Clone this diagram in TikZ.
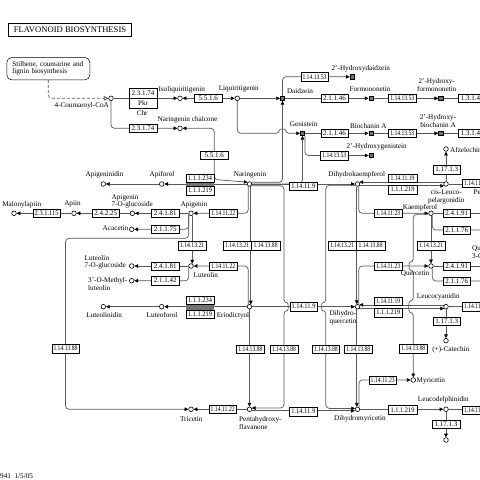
\documentclass[tikz,border=0pt]{standalone}
\usepackage{fontspec}
\setmainfont{Liberation Serif}
\usepackage{graphicx}
\usetikzlibrary{arrows.meta}
\pgfdeclarelayer{back}
\pgfdeclarelayer{bg}
\pgfsetlayers{back,bg,main}
\newsavebox\ecb
\newcommand\ectxt[1]{\sbox\ecb{#1}\ifdim\wd\ecb>24pt\relax\resizebox{24pt}{\ht\ecb}{\usebox\ecb}\else\usebox\ecb\fi}
\newcommand\Cpd[2]{\node[cpd] (#1) at (#2) {};}
\newcommand\Iso[2]{\node[isof] (#1) at (#2) {};}
\newcommand\Ec[4][]{\node[ecbox,#1] (#2) at (#3) {\ectxt{#4}};}
\newcommand\Lb[3]{\node[lbl] (#1) at (#2) {#3};}
\newcommand\LbW[3]{\node[lbl,anchor=west,align=left] (#1) at (#2) {#3};}
\newcommand\LbE[3]{\node[lbl,anchor=east] (#1) at (#2) {#3};}
\tikzset{
 ecbox/.style={draw=black, fill=white, line width=0.5pt, minimum width=27.5pt, minimum height=8.5pt, inner sep=0pt, font=\fontsize{7}{7}\selectfont},
 ecw/.style={minimum width=28.5pt},
 cpd/.style={circle, draw=black, fill=white, line width=0.6pt, minimum size=4.6pt, inner sep=0pt},
 isof/.style={rectangle, draw=black, fill=black!55, line width=0.5pt, minimum size=4.4pt, inner sep=0pt},
 lbl/.style={inner sep=0pt, font=\fontsize{7.2}{7.6}\selectfont, align=center},
 lnk/.style={draw=black!65, line width=0.7pt, rounded corners=3.5pt},
 arr/.style={lnk, -{Triangle[length=3.8pt,width=3.6pt,color=black]}},
 barr/.style={lnk, {Triangle[length=3.8pt,width=3.6pt,color=black]}-{Triangle[length=3.8pt,width=3.6pt,color=black]}},
}
\begin{document}
\begin{tikzpicture}[x=1pt,y=-1pt]
\useasboundingbox (0,0) rectangle (480,480);
\begin{pgfonlayer}{back}
\fill[white] (0,0) rectangle (480,480);
\end{pgfonlayer}
\clip (0,0) rectangle (480,480);
% title and map link
\node[draw=black, line width=1.2pt, minimum width=123pt, minimum height=13.5pt, inner sep=0pt, font=\fontsize{8.6}{9}\selectfont] (title) at (70,30) {FLAVONOID BIOSYNTHESIS};
\node[draw=black, line width=0.5pt, rounded corners=5pt, minimum width=83pt, minimum height=22.5pt, inner sep=0pt, text width=72pt, align=left, font=\fontsize{7.2}{7}\selectfont] (stil) at (48.3,68.7) {Stilbene, coumarine and\\lignin biosynthesis};
% compounds
\Cpd{cou}{111,98.3}
\Cpd{isoliq}{180,98.3}
\Cpd{liq}{237.3,98.3}
\Cpd{chal}{180,128.3}
\Cpd{nar}{249.5,184}
\Cpd{apif}{161.7,184}
\Cpd{apid}{103.3,184}
\Cpd{api}{191,213.3}
\Cpd{a7g}{132.3,213.3}
\Cpd{apiin}{74,213.3}
\Cpd{malap}{14,213.3}
\Cpd{acac}{131.7,229.3}
\Cpd{lut}{191,266}
\Cpd{l7g}{131.7,266}
\Cpd{mlut}{131.7,280.7}
\Cpd{eri}{249.5,306.7}
\Cpd{lutf}{161.7,306.7}
\Cpd{lutd}{103.3,306.7}
\Cpd{tri}{191,409.3}
\Cpd{pen}{249.5,409.3}
\Cpd{dhk}{357.5,184}
\Cpd{dhq}{357.5,306.7}
\Cpd{dhm}{357.5,409.3}
\Cpd{kae}{431,213.3}
\Cpd{que}{431,266}
\Cpd{myr}{413.3,380}
\Cpd{clp}{446,184}
\Cpd{afz}{446,149}
\Cpd{leu}{446,306.7}
\Cpd{cat}{446,340.7}
\Cpd{ldp}{446,409.3}
\Cpd{gcat}{446,440}
\Iso{dai}{282.5,98.3}
\Iso{gen}{302.5,133.3}
\Iso{hdai}{352.3,76.8}
\Iso{form}{371,98.3}
\Iso{hform}{440.7,98.3}
\Iso{bioa}{371,133.3}
\Iso{hbioa}{440.7,133.3}
\Iso{hgen}{371,155.5}
% enzymes
\Ec[minimum height=10pt, minimum width=28pt]{pkr}{143,93}{2.3.1.74}
\node[ecbox, minimum height=10pt, minimum width=28pt] (pkrb) at (143,103) {Pkr};
\Ec{chs2}{143,128.3}{2.3.1.74}
\Ec{chi1}{208.3,98.3}{5.5.1.6}
\Ec{chi2}{214.2,155}{5.5.1.6}
\Ec{hd53}{314.5,76.8}{1.14.13.53}
\Ec{fm46}{334.5,98.3}{2.1.1.46}
\Ec{hf53}{402.3,98.3}{1.14.13.53}
\Ec{rf1}{472.3,98.3}{1.3.1.45}
\Ec{ba46}{334.5,133.3}{2.1.1.46}
\Ec{hb53}{402.3,133.3}{1.14.13.53}
\Ec{rf2}{472.3,133.3}{1.3.1.45}
\Ec{hg53}{334.3,155.5}{1.14.13.53}
\Ec{f3ha}{303.3,186.2}{1.14.11.9}
\Ec{dfra}{200,178}{1.1.1.234}
\Ec{dfrb}{200,190.5}{1.1.1.219}
\Ec{fnsa}{223.3,213.3}{1.14.11.22}
\Ec{gta}{165.2,213.3}{2.4.1.81}
\Ec{mta}{165.2,229.3}{2.1.1.75}
\Ec{ap25}{105.8,213.3}{2.4.2.25}
\Ec{ap115}{46.7,213.3}{2.3.1.115}
\Ec{f3pa}{192.15,245.5}{1.14.13.21}
\Ec[ecw]{nfa}{237.1,245.5}{1.14.13.21}
\Ec[ecw]{nfb}{265.6,245.5}{1.14.13.88}
\Ec[ecw]{dka}{342.1,245.5}{1.14.13.21}
\Ec[ecw]{dkb}{370.6,245.5}{1.14.13.88}
\Ec{fnsb}{223.3,266}{1.14.11.22}
\Ec{gtb}{165.2,266}{2.4.1.81}
\Ec{mtb}{165.2,280.7}{2.1.1.42}
\Ec{dfrc}{200,300}{1.1.1.234}
\Ec{dfrd}{200,314}{1.1.1.219}
\Ec{f3hb}{303.5,306.7}{1.14.11.9}
\Ec{fta}{65.5,348.7}{1.14.13.88}
\Ec{ftb}{250.45,349}{1.14.13.88}
\Ec{ftc}{284,349}{1.14.13.88}
\Ec{ftd}{325.8,349.2}{1.14.13.88}
\Ec{fte}{358.3,349.2}{1.14.13.88}
\Ec{ftf}{413.3,348.7}{1.14.13.88}
\Ec{fnsc}{222.7,409.3}{1.14.11.22}
\Ec{f3hc}{303.3,411.5}{1.14.11.9}
\Ec[ecw]{ansa}{402.5,178}{1.14.11.19}
\Ec[ecw]{dfre}{402.5,189.5}{1.1.1.219}
\Ec{lara}{446.7,169.5}{1.17.1.3}
\Ec{ransa}{476,183}{1.14.11.19}
\Ec{flsa}{388.3,213.3}{1.14.11.23}
\Ec{gtc}{456.7,213.3}{2.4.1.91}
\Ec{mtc}{456.7,230}{2.1.1.76}
\Ec{f3pb}{431,245.5}{1.14.13.21}
\Ec{flsb}{388.3,266}{1.14.11.23}
\Ec{gtd}{456.7,266}{2.4.1.91}
\Ec{mtd}{456.7,281}{2.1.1.76}
\Ec{ansb}{388.3,301}{1.14.11.19}
\Ec{dfrf}{388.3,312.5}{1.1.1.219}
\Ec{ransb}{476,306.5}{1.14.11.19}
\Ec{larb}{446.7,321}{1.17.1.3}
\Ec{flsc}{382.7,380}{1.14.11.23}
\Ec[ecw]{dfrg}{402.5,409.8}{1.1.1.219}
\Ec{ransc}{476,410}{1.14.11.19}
\Ec{larc}{446,424.2}{1.17.1.3}
\fill[black!55] (dfra.south west) rectangle (dfrb.north east);
\fill[black!55] (dfrc.south west) rectangle (dfrd.north east);
% labels
\Lb{t-cou}{81.7,106}{4-Coumaroyl-CoA}
\Lb{t-chr}{142.2,112.7}{Chr}
\Lb{t-isoliq}{181.7,89.3}{Isoliquiritigenin}
\Lb{t-liq}{238.8,89.3}{Liquiritigenin}
\Lb{t-chal}{187.5,119.3}{Naringenin chalcone}
\Lb{t-dai}{300,91}{Daidzein}
\Lb{t-hdai}{360.8,68.3}{2'-Hydroxydaidzein}
\Lb{t-form}{370,89.3}{Formononetin}
\Lb{t-hform}{436.7,85}{2'-Hydroxy-\\formononetin}
\Lb{t-gen}{303.7,124.3}{Genistein}
\Lb{t-bioa}{368.3,126}{Biochanin A}
\Lb{t-hbioa}{438,121.3}{2'-Hydroxy-\\biochanin A}
\Lb{t-hgen}{376.7,146.7}{2'-Hydroxygenistein}
\LbW{t-afz}{450,149.5}{Afzelechin}
\Lb{t-nar}{250,175}{Naringenin}
\Lb{t-apif}{162,175}{Apiforol}
\Lb{t-apid}{104.5,175}{Apigeninidin}
\Lb{t-dhk}{356.7,175}{Dihydrokaempferol}
\Lb{t-clp}{446.3,196.7}{cis-Leuco-\\pelargonidin}
\LbW{t-pel}{473.5,193}{Pelargonidin}
\Lb{t-api}{194,205}{Apigenin}
\Lb{t-malap}{21.7,204.3}{Malonylapiin}
\Lb{t-apiin}{72.5,204.3}{Apiin}
\LbW{t-a7g}{111.5,201.5}{Apigenin\\7-O-glucoside}
\LbE{t-acac}{128.5,228.5}{Acacetin}
\Lb{t-kae}{420,207.7}{Kaempferol}
\LbW{t-q3g}{472,253}{Quercetin\\3-O-glucoside}
\Lb{t-que}{415,273.3}{Quercetin}
\LbW{t-l7g}{84.5,262.2}{Luteolin\\7-O-glucoside}
\Lb{t-lut}{205.8,275}{Luteolin}
\LbW{t-mlut}{88,284.2}{3'-O-Methyl-\\luteolin}
\Lb{t-leu}{438.3,296.7}{Leucocyanidin}
\Lb{t-lutd}{104.2,315.3}{Luteolinidin}
\Lb{t-lutf}{162,315.3}{Luteoforol}
\Lb{t-eri}{233,315.3}{Eriodictyol}
\LbW{t-dhq}{329.5,317.5}{Dihydro-\\quercetin}
\Lb{t-cat}{450.8,349.3}{(+)-Catechin}
\LbW{t-myr}{416.5,380.7}{Myricetin}
\Lb{t-ldp}{443.3,400}{Leucodelphinidin}
\Lb{t-tri}{191.3,419}{Tricetin}
\LbW{t-pen}{239,423}{Pentahydroxy-\\flavanone}
\Lb{t-dhm}{360,418.3}{Dihydromyricetin}
\LbW{t-date}{0,476.5}{941\ \ 1/5/05}
% helper coordinates
\coordinate (hA1) at (279.5,133.3);
\coordinate (hA2) at (285.5,133.3);
\coordinate (hB1) at (284,303);
\coordinate (hB2) at (284,310.4);
\coordinate (hC1) at (325.8,303);
\coordinate (hC2) at (325.8,310.4);
\coordinate (hD1) at (413.3,262.3);
\coordinate (hD2) at (413.3,269.7);
\coordinate (hD3) at (413.3,301.2);
\coordinate (hD4) at (413.3,312.2);
\coordinate (nc1) at (214.2,179.5);
\coordinate (lc1) at (65.5,238.3);
\coordinate (e1) at (480,213.3);
\coordinate (e2) at (480,230);
\coordinate (e3) at (480,266);
\coordinate (e4) at (480,281);
\coordinate (e5) at (480,184);
\coordinate (e6) at (480,306.7);
\coordinate (e7) at (480,409.3);
\coordinate (e8) at (480,98.3);
\coordinate (e9) at (480,133.3);
\begin{pgfonlayer}{bg}
\draw[lnk, dash pattern=on 3pt off 2pt, -{Triangle[open,length=4.5pt,width=4.5pt,color=black!70]}] (stil.south) |- (cou.west);
\draw[arr] (cou) -- (isoliq);
\draw[arr] (cou.south) |- (chal.west);
\draw[barr] (isoliq) -- (liq);
\draw[barr] (chal.east) -| (nc1) -- (nar.135);
\draw[arr] (liq) -- (dai);
\draw[arr] (dai) -- (form);
\draw[arr] (form) -- (hform);
\draw[lnk] (hform) -- (e8);
\draw[arr] (dai.north) |- (hdai.west);
\draw[arr] (liq.south) |- (hA1) .. controls +(0,-4.5) and +(0,-4.5) .. (hA2) -- (gen.west);
\draw[arr] (gen) -- (bioa);
\draw[arr] (bioa) -- (hbioa);
\draw[lnk] (hbioa) -- (e9);
\draw[arr] (gen.-45) |- (hgen.west);
% naringenin
\draw[arr] (nar.40) -| (dai.south);
\draw[arr] (nar.20) -| (gen.south);
\draw[arr] (nar) -- (dhk);
\draw[arr] (nar.-40) -| (hB1) .. controls +(4.5,0) and +(4.5,0) .. (hB2) |- (pen.30);
\draw[arr] (nar.-60) -- (eri.60);
\draw[arr] (nar.-120) |- (api.east);
\draw[arr] (nar.west) -- (apif);
\draw[arr] (apif) -- (apid);
% apigenin
\draw[arr] (api) -- (a7g);
\draw[arr] (a7g) -- (apiin);
\draw[arr] (apiin) -- (malap);
\draw[arr] (api.-150) |- (acac.east);
\draw[arr] (api.-150) |- (lc1) -- (fta.center) |- (tri.west);
\draw[arr] (api.-60) -- (lut.60);
% luteolin
\draw[arr] (eri.120) |- (lut.east);
\draw[arr] (lut) -- (l7g);
\draw[arr] (lut.-150) |- (mlut.east);
% eriodictyol
\draw[arr] (eri) -- (lutf);
\draw[arr] (lutf) -- (lutd);
\draw[arr] (eri) -- (dhq);
\draw[arr] (eri) -- (pen);
% pentahydroxyflavanone
\draw[arr] (pen) -- (tri);
\draw[arr] (pen.-35) -- (pen.-35 -| dhm.west);
% dihydrokaempferol
\draw[arr] (clp.135) -- (dhk.45);
\draw[arr] (dhk.-45) -- (clp.-135);
\draw[arr] (dhk.-60) |- (kae.west);
\draw[arr] (dhk.-105) -- (dhq.105);
\draw[arr] (dhk.-150) -| (hC1) .. controls +(-4.5,0) and +(-4.5,0) .. (hC2) |- (dhm.160);
% dihydroquercetin
\draw[arr] (leu.135) -- (dhq.45);
\draw[arr] (dhq.-45) -- (leu.-135);
\draw[arr] (dhq.60) |- (que.west);
\draw[arr] (dhq.-105) -- (dhm.105);
% dihydromyricetin
\draw[arr] (dhm.55) |- (myr.west);
\draw[arr] (dhm) -- (ldp);
% kaempferol, quercetin
\draw[lnk] (kae) -- (e1);
\draw[lnk] (kae.-60) |- (e2);
\draw[arr] (kae) -- (que);
\draw[arr] (kae.200) -| (hD1) .. controls +(-4.5,0) and +(-4.5,0) .. (hD2) -- (hD3) .. controls +(-5,0) and +(-5,0) .. (hD4) -- (myr.north);
\draw[lnk] (que) -- (e3);
\draw[lnk] (que.-60) |- (e4);
% leucoanthocyanidins
\draw[arr] (clp) -- (afz);
\draw[lnk] (clp) -- (e5);
\draw[arr] (leu) -- (cat);
\draw[lnk] (leu) -- (e6);
\draw[arr] (ldp) -- (gcat);
\draw[lnk] (ldp) -- (e7);
\end{pgfonlayer}
\end{tikzpicture}
\end{document}
